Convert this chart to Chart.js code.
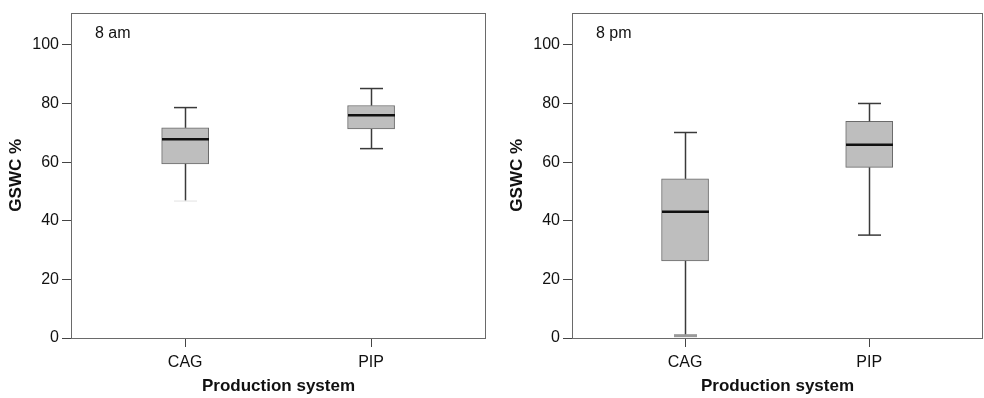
<!DOCTYPE html>
<html><head><meta charset="utf-8">
<script src="https://cdn.jsdelivr.net/npm/chart.js@4/dist/chart.umd.min.js"></script>
<style>
html,body{margin:0;padding:0;background:#fff;overflow:hidden}
#wrap{position:relative;width:984px;height:398px;overflow:hidden}
canvas{position:absolute;top:0}
</style></head>
<body>
<div id="wrap">
<canvas id="c1" width="501" height="398" style="left:0;width:501px;height:398px"></canvas>
<canvas id="c2" width="483" height="398" style="left:501px;width:483px;height:398px"></canvas>
</div>
<script>
// ---- data ----
const categories = ['CAG', 'PIP'];
const yTicks = [0, 20, 40, 60, 80, 100];
const panelLabels = ['8 am', '8 pm'];

const amMin    = [46.7, 64.6];
const amQ1     = [59.4, 71.3];
const amMedian = [67.8, 76.0];
const amQ3     = [71.7, 79.3];
const amMax    = [78.6, 85.1];

const pmMin    = [0.8, 35.1];
const pmQ1     = [26.3, 58.2];
const pmMedian = [43.1, 65.9];
const pmQ3     = [54.3, 73.9];
const pmMax    = [70.1, 80.0];

const FONT = "'Liberation Sans', Arial, Helvetica, sans-serif";

const boxPlugin = {
  id: 'boxWhisk',
  afterDatasetsDraw(chart, args, opts) {
    const { ctx, chartArea: ca, scales: { x, y } } = chart;
    const s = opts.stats;
    const line = (x1, y1, x2, y2) => { ctx.beginPath(); ctx.moveTo(x1, y1); ctx.lineTo(x2, y2); ctx.stroke(); };
    ctx.save();
    s.min.forEach((_, i) => {
      const px = Math.round(x.getPixelForValue(i + 1)) + 0.5;
      const capHalf = opts.capWidth / 2;
      const boxHalf = opts.boxWidth / 2;
      const yMin = y.getPixelForValue(s.min[i]);
      const yQ1 = y.getPixelForValue(s.q1[i]);
      const yMed = y.getPixelForValue(s.median[i]);
      const yQ3 = y.getPixelForValue(s.q3[i]);
      const yMax = y.getPixelForValue(s.max[i]);
      ctx.strokeStyle = '#3a3a3a';
      ctx.lineWidth = 1.5;
      line(px, yQ3, px, yMax);
      line(px, yQ1, px, yMin);
      line(px - capHalf, yMax, px + capHalf, yMax);
      ctx.strokeStyle = opts.lowCapColor[i];
      ctx.lineWidth = opts.lowCapWidth[i];
      line(px - capHalf, yMin, px + capHalf, yMin);
      ctx.strokeStyle = '#111';
      ctx.lineWidth = 2.5;
      line(px - boxHalf, yMed, px + boxHalf, yMed);
    });
    // frame
    ctx.strokeStyle = '#6a6a6a';
    ctx.lineWidth = 1;
    const l = Math.round(ca.left) + 0.5, t = Math.round(ca.top) + 0.5;
    const r = Math.round(ca.right) - 0.5, b = Math.round(ca.bottom) + 0.5;
    ctx.strokeRect(l, t, r - l, b - t);
    // panel label
    ctx.fillStyle = '#111';
    ctx.font = '16px ' + FONT;
    ctx.textBaseline = 'middle';
    ctx.textAlign = 'left';
    ctx.fillText(opts.label, ca.left + 24, ca.top + 21);
    ctx.restore();
  }
};

function makeChart(id, label, mn, q1, med, q3, mx, lowCapColor, lowCapWidth, rightPad) {
  return new Chart(document.getElementById(id), {
    type: 'bar',
    data: {
      datasets: [{
        data: categories.map((c, i) => ({ x: i + 1, y: [q1[i], q3[i]] })),
        backgroundColor: '#bebebe',
        borderColor: '#6a6a6a',
        borderWidth: 1,
        borderSkipped: false,
        barThickness: 47
      }]
    },
    options: {
      responsive: false,
      animation: false,
      events: [],
      layout: { padding: { top: 10, right: rightPad, left: 0, bottom: 0 } },
      plugins: {
        legend: { display: false },
        tooltip: { enabled: false },
        boxWhisk: {
          stats: { min: mn, q1: q1, median: med, q3: q3, max: mx },
          capWidth: 23, boxWidth: 47, label: label,
          lowCapColor: lowCapColor, lowCapWidth: lowCapWidth
        }
      },
      scales: {
        x: {
          type: 'linear',
          offset: false,
          min: 0.386, max: 2.618,
          afterBuildTicks: (sc) => { sc.ticks = categories.map((c, i) => ({ value: i + 1 })); },
          afterFit: (sc) => { sc.height = 60; },
          grid: { display: true, offset: false, drawOnChartArea: false, drawTicks: true, tickLength: 9, color: '#444', lineWidth: 1 },
          border: { display: false },
          ticks: {
            autoSkip: false, maxRotation: 0, padding: 6, color: '#111',
            font: { family: FONT, size: 16 },
            callback: (v) => categories[Math.round(v) - 1] || ''
          },
          title: { display: true, text: 'Production system', color: '#111', font: { family: FONT, size: 17, weight: 'bold' }, padding: { top: 0, bottom: 1 } }
        },
        y: {
          min: 0, max: 111,
          afterBuildTicks: (sc) => { sc.ticks = yTicks.map(v => ({ value: v })); },
          afterFit: (sc) => { sc.width = 71; },
          grid: { display: true, drawOnChartArea: false, drawTicks: true, tickLength: 9, color: '#444', lineWidth: 1 },
          border: { display: false },
          ticks: { padding: 3, color: '#111', font: { family: FONT, size: 16 } },
          title: { display: true, text: 'GSWC %', color: '#111', font: { family: FONT, size: 17, weight: 'bold' }, padding: { top: 6, bottom: 0 } }
        }
      }
    },
    plugins: [boxPlugin]
  });
}

makeChart('c1', panelLabels[0], amMin, amQ1, amMedian, amQ3, amMax, ['#ececec', '#3a3a3a'], [1.5, 1.5], 15);
makeChart('c2', panelLabels[1], pmMin, pmQ1, pmMedian, pmQ3, pmMax, ['#9a9a9a', '#3a3a3a'], [3, 1.5], 1);
</script>
</body></html>
